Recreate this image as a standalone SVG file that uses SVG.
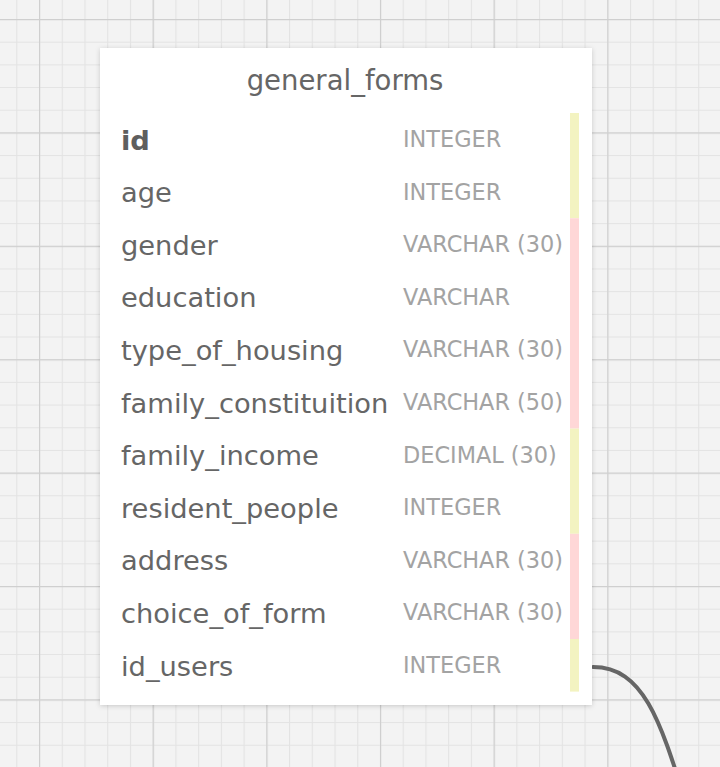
<svg xmlns="http://www.w3.org/2000/svg" width="720" height="767" viewBox="0 0 720 767">
  <defs>
    <pattern id="minor" x="39" y="19" width="22.73" height="22.68" patternUnits="userSpaceOnUse">
      <path d="M0 0V22.68M0 0H22.73" fill="none" stroke="#e3e3e3" stroke-width="2.2"/>
    </pattern>
    <pattern id="major" x="39" y="19" width="113.66" height="113.4" patternUnits="userSpaceOnUse">
      <path d="M0 0V113.4M0 0H113.66" fill="none" stroke="#cfcfcf" stroke-width="2.4"/>
    </pattern>
    <filter id="shadow" x="-5%" y="-5%" width="110%" height="110%">
      <feDropShadow dx="0" dy="1" stdDeviation="2.5" flood-color="#000" flood-opacity="0.18"/>
    </filter>
  </defs>
  <style>
    .title { font-family: "DejaVu Sans", Verdana, sans-serif; font-size: 27.5px; fill: #666666; }
    .field { font-family: "DejaVu Sans", Verdana, sans-serif; font-size: 27.3px; fill: #666666; }
    .pk { font-weight: bold; fill: #5e5e5e; }
    .type { font-family: "DejaVu Sans", Verdana, sans-serif; font-size: 22.4px; fill: #a3a3a3; }
    .y { fill: #f3f3c1; }
    .p { fill: #ffd7d7; }
    .conn { fill: none; stroke: #666666; stroke-width: 4; stroke-linecap: round; }
  </style>
  <rect width="720" height="767" fill="#f3f3f3"/>
  <rect width="720" height="767" fill="url(#minor)"/>
  <rect width="720" height="767" fill="url(#major)"/>

  <g id="connectors">
    <path class="conn" d="M593 667 C643 667 660 720 685 800"/>
  </g>

  <g id="general_forms">
    <rect x="100" y="48" width="492" height="657" fill="#ffffff" filter="url(#shadow)"/>
    <text class="title" x="345" y="90" text-anchor="middle">general_forms</text>
    <rect class="y" x="570" y="113" width="9" height="105.2"/>
    <rect class="p" x="570" y="218.2" width="9" height="210.4"/>
    <rect class="y" x="570" y="428.6" width="9" height="105.2"/>
    <rect class="p" x="570" y="533.8" width="9" height="105.2"/>
    <rect class="y" x="570" y="639" width="9" height="52.6"/>

    <text class="field pk" x="121" y="149.5">id</text>
    <text class="field" x="121" y="202.1">age</text>
    <text class="field" x="121" y="254.7">gender</text>
    <text class="field" x="121" y="307.3">education</text>
    <text class="field" x="121" y="359.9">type_of_housing</text>
    <text class="field" x="121" y="412.5">family_constituition</text>
    <text class="field" x="121" y="465.1">family_income</text>
    <text class="field" x="121" y="517.7">resident_people</text>
    <text class="field" x="121" y="570.3">address</text>
    <text class="field" x="121" y="622.9">choice_of_form</text>
    <text class="field" x="121" y="675.5">id_users</text>

    <text class="type" x="403" y="147">INTEGER</text>
    <text class="type" x="403" y="199.6">INTEGER</text>
    <text class="type" x="403" y="252.2">VARCHAR (30)</text>
    <text class="type" x="403" y="304.8">VARCHAR</text>
    <text class="type" x="403" y="357.4">VARCHAR (30)</text>
    <text class="type" x="403" y="410">VARCHAR (50)</text>
    <text class="type" x="403" y="462.6">DECIMAL (30)</text>
    <text class="type" x="403" y="515.2">INTEGER</text>
    <text class="type" x="403" y="567.8">VARCHAR (30)</text>
    <text class="type" x="403" y="620.4">VARCHAR (30)</text>
    <text class="type" x="403" y="673">INTEGER</text>
  </g>
</svg>
